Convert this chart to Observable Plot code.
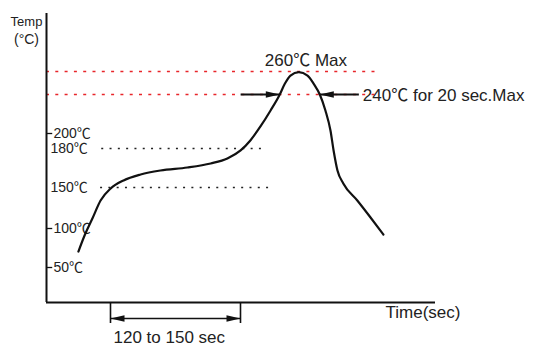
<!DOCTYPE html>
<html>
<head>
<meta charset="utf-8">
<script src="https://cdn.jsdelivr.net/npm/d3@7"></script>
<script src="https://cdn.jsdelivr.net/npm/@observablehq/plot@0.6"></script>
<style>
  html, body { margin: 0; padding: 0; background: #fff; }
  #chart svg { display: block; }
</style>
</head>
<body>
<div id="chart"></div>
<script>
// ---- Data (schematic reflow profile; time in normalized units 0-100) ----
const profileTime = [8.2, 10.0, 11.8, 13.9, 16.5, 19.8, 24.2, 29.3, 36.2, 42.2, 46.5, 49.9, 52.4, 55.0, 57.6, 59.97, 61.26, 62.72, 64.86, 67.1, 68.7, 70.26, 71.7, 73.0, 73.8, 74.8, 76.3, 79.9, 83.3, 86.6];
const profileTemp = [70.5, 93.6, 112.2, 134.1, 148.8, 155.4, 160, 163.1, 165.4, 168.5, 172.3, 178.5, 190.7, 207.2, 223.6, 240, 249.3, 256.5, 259.4, 256.5, 249.3, 240, 223.6, 203.1, 178.5, 163.1, 153.1, 134.1, 113.4, 92.3];

// schematic (non-linear) temperature axis: temperature levels and their drawn heights
const levelTemps = [5, 50, 100, 150, 180, 200, 240, 260, 310];
const levelHeights = [0, 35, 74, 115, 154, 169, 208, 231, 289];

// ticked labels on the axis
const tickTemps = [200, 100, 50];
const tickLabels = ["200℃", "100℃", "50℃"];
// labels of the black dotted guides
const guideTemps = [180, 150];
const guideLabels = ["180℃", "150℃"];
const guideStart = [14.2, 13.9];
const guideEnd = [56.8, 58.1];
// red dotted limits
const limitTemps = [260, 240];
const limitEnd = 84.6;

// 240℃ dwell arrows (time units)
const dwellFrom = [49.9, 80.3];
const dwellTo = [59.97, 70.26];
// preheat bracket (time units)
const preheatStart = 16.45;
const preheatEnd = 49.87;

const texts = {
  peak: "260℃ Max",
  dwell: "240℃ for 20 sec.Max",
  preheat: "120 to 150 sec",
  xTitle: "Time(sec)",
  yTitle1: "Temp",
  yTitle2: "(°C)"
};

// ---- Build tables ----
const schematic = d3.scaleLinear().domain(levelTemps).range(levelHeights);

const profile = profileTime.map((t, i) => ({t, temp: profileTemp[i]}));
const ticks = tickTemps.map((v, i) => ({v, label: tickLabels[i]}));
const guides = guideTemps.map((v, i) => ({v, label: guideLabels[i], x1: guideStart[i], x2: guideEnd[i]}));
const dwell = dwellFrom.map((x1, i) => ({x1, x2: dwellTo[i], y: 240}));
const bracketLow = -22, bracketMid = -15.6, bracketText = -40;

// arrowheads: tip position and direction (90 = right, -90 = left)
const heads = [
  {x: dwellTo[0], y: 240, dir: 90},
  {x: dwellTo[1], y: 240, dir: -90},
  {x: preheatStart, y: bracketMid, dir: -90},
  {x: preheatEnd, y: bracketMid, dir: 90}
];

const font = "'Liberation Sans', Arial, 'Noto Sans CJK SC', sans-serif";
const red = "#e8262b";

const chart = Plot.plot({
  width: 557,
  height: 354,
  marginLeft: 46,
  marginRight: 122,
  marginTop: 13,
  marginBottom: 52,
  style: {fontFamily: font, background: "#fff", color: "#111", overflow: "visible"},
  x: {domain: [0, 100], axis: null},
  y: {type: "linear", transform: t => schematic(t), domain: [0, 289], axis: null},
  marks: [
    // red dotted limits
    Plot.ruleY(limitTemps, {x1: 0, x2: limitEnd, stroke: red, strokeWidth: 1.5, strokeDasharray: "3,6.3"}),
    // black dotted guides
    Plot.ruleY(guides, {y: "v", x1: "x1", x2: "x2", stroke: "#222", strokeWidth: 1.3, strokeDasharray: "2,6.3"}),
    // axes
    Plot.ruleX([0], {stroke: "#111", strokeWidth: 2}),
    Plot.ruleY([5], {stroke: "#111", strokeWidth: 2}),
    // ticks + labels
    Plot.ruleY(ticks, {y: "v", x1: 0, x2: 1.6, stroke: "#111", strokeWidth: 1.3}),
    Plot.text(ticks, {x: 0, y: "v", text: "label", dx: 7, textAnchor: "start", fontSize: 14, fill: "#222"}),
    Plot.text(guides, {x: 0, y: "v", text: "label", dx: 4, textAnchor: "start", fontSize: 14, fill: "#222"}),
    // profile curve
    Plot.line(profile, {x: "t", y: "temp", curve: "monotone-x", stroke: "#111", strokeWidth: 2.2}),
    // dwell arrows
    Plot.link(dwell, {x1: "x1", x2: "x2", y1: "y", y2: "y", stroke: "#111", strokeWidth: 2}),
    // preheat bracket
    Plot.ruleX([preheatStart, preheatEnd], {y1: 5, y2: bracketLow, stroke: "#111", strokeWidth: 1.6}),
    Plot.ruleY([bracketMid], {x1: preheatStart, x2: preheatEnd, stroke: "#111", strokeWidth: 1.6}),
    // arrowheads
    Plot.vector(heads, {x: "x", y: "y", rotate: "dir", length: 14, r: 3.2, shape: "spike", anchor: "end", fill: "#111", stroke: "none"}),
    // annotations
    Plot.text([texts.peak], {x: 66.7, y: 260, dy: -11, text: d => d, fontSize: 17, textAnchor: "middle", fill: "#222"}),
    Plot.text([texts.dwell], {x: dwellFrom[1], y: 240, dx: 4, dy: 1, text: d => d, fontSize: 17, textAnchor: "start", fill: "#222"}),
    Plot.text([texts.preheat], {x: preheatStart, y: bracketText, dx: 3, text: d => d, fontSize: 17, textAnchor: "start", fill: "#222"}),
    // axis titles
    Plot.text([texts.xTitle], {x: 87.15, y: 5, dy: 10, text: d => d, fontSize: 17, textAnchor: "start", fill: "#222"}),
    Plot.text([texts.yTitle1], {frameAnchor: "top-left", dx: -20, dy: 8, text: d => d, fontSize: 13, textAnchor: "middle", lineAnchor: "middle", fill: "#222"}),
    Plot.text([texts.yTitle2], {frameAnchor: "top-left", dx: -20, dy: 26, text: d => d, fontSize: 14, textAnchor: "middle", lineAnchor: "middle", fill: "#222", letterSpacing: "1.5px"})
  ]
});
document.getElementById("chart").appendChild(chart);
</script>
</body>
</html>
